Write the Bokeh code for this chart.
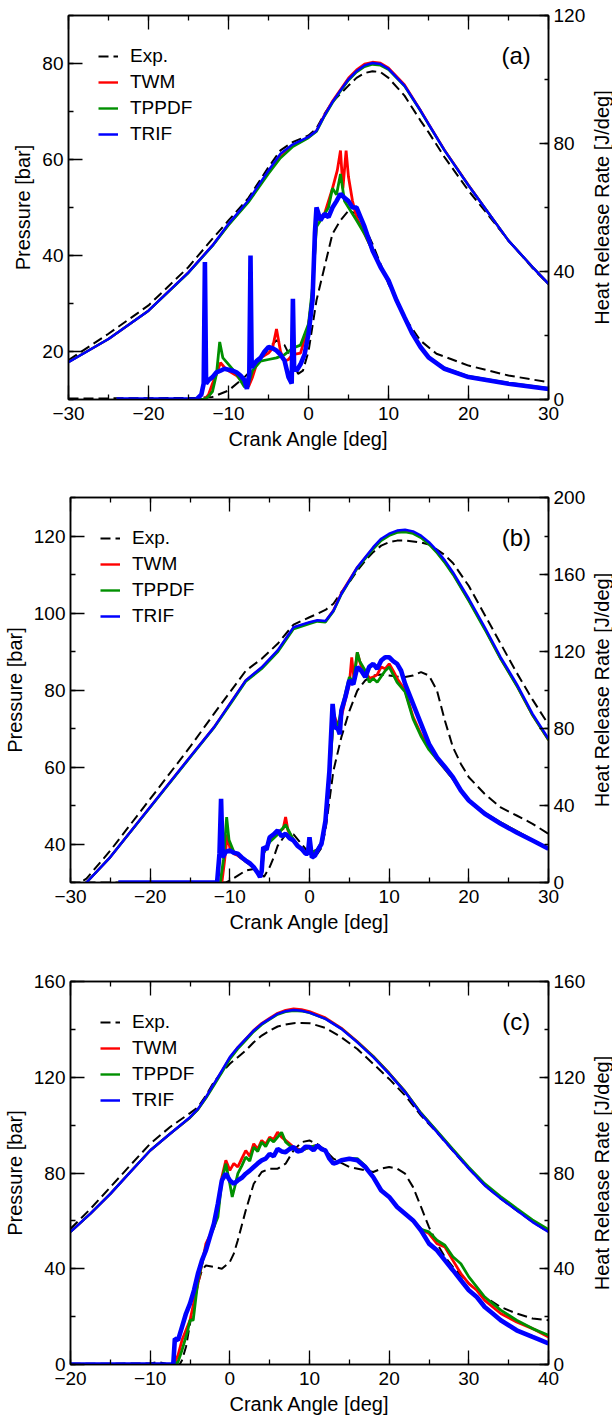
import math
from bokeh.plotting import figure
from bokeh.models import (Range1d, LinearAxis, SingleIntervalTicker, Legend,
                          LegendItem, Label, CustomJSTickFormatter, Title)
from bokeh.layouts import column, row
from bokeh.embed import file_html
from bokeh.resources import INLINE

# ---------------- data ----------------
SERIES = ["Exp.", "TWM", "TPPDF", "TRIF"]

A_P_X = [-30, -25, -20, -15, -12, -10, -7.5, -5, -3.5, -2, 0, 1, 2, 3, 4, 5, 6, 7, 8, 9,
         10, 12, 14, 15, 17, 20, 22, 25, 28, 30]
A_P_EXP = [18.2, 23.7, 29.6, 37.6, 43.5, 47.3, 52.0, 58.4, 61.9, 63.6, 65.0, 66.5, 69.5, 72.0,
           73.7, 75.4, 77.0, 78.0, 78.4, 78.2, 77.0, 73.3, 68.1, 65.7, 60.5, 53.5, 49.4, 43.1,
           37.4, 34.0]
A_P_TWM = [17.8, 22.6, 28.5, 36.5, 42.1, 46.4, 51.3, 57.3, 60.6, 62.8, 64.6, 66.0, 69.3, 72.2,
           74.6, 77.0, 78.7, 79.9, 80.3, 80.1, 79.1, 75.6, 70.3, 67.5, 62.0, 54.7, 50.0, 43.1,
           37.6, 34.1]
A_P_TPPDF = [17.8, 22.6, 28.5, 36.4, 42.0, 46.3, 51.1, 57.0, 60.3, 62.6, 64.5, 65.8, 69.0, 71.8,
             74.2, 76.5, 78.2, 79.3, 79.8, 79.6, 78.7, 75.3, 70.1, 67.3, 61.9, 54.6, 50.0, 43.1,
             37.6, 34.1]
A_P_TRIF = [17.8, 22.6, 28.5, 36.5, 42.1, 46.6, 51.5, 57.7, 61.2, 63.1, 64.7, 66.0, 69.2, 72.0,
            74.4, 76.7, 78.4, 79.6, 80.1, 79.9, 78.9, 75.4, 70.2, 67.4, 61.9, 54.6, 50.0, 43.1,
            37.6, 34.1]

A_H_EXP = [(-30, 0.3), (-20, 0.4), (-14, 0.5), (-12, 0.8), (-10, 2.8), (-8, 7), (-6, 12),
           (-5, 16), (-4, 18.5), (-3, 17), (-2, 12), (-1.3, 8), (-0.7, 9), (0, 15), (1, 31),
           (2, 41.4), (3, 51.8), (4, 56), (5, 59), (6, 58), (7, 54), (8, 48.6), (9, 42.4),
           (10, 36.1), (12, 25.7), (14, 18.4), (16, 14.3), (20, 10.6), (25, 7.5), (30, 5.4)]
A_H_TWM = [(-24, 0), (-13, 0), (-12.5, 1.5), (-12, 5), (-11.5, 8), (-11, 11.5), (-10.5, 10),
           (-10, 9), (-9, 7.5), (-8, 5), (-7.5, 4), (-7, 7), (-6.5, 11), (-6, 13), (-5, 14.5),
           (-4.5, 16), (-4, 22), (-3.5, 15), (-3, 12), (-2.5, 12.5), (-2, 14), (-1, 14.5),
           (0, 23), (0.5, 33), (1, 56), (2, 58), (2.5, 62), (3, 66), (3.6, 71.6), (4, 77.8),
           (4.3, 66), (4.7, 77.8), (5, 69.5), (5.5, 62), (6, 57), (7, 51.8), (8, 46.6),
           (9, 41.4), (10, 37.2), (11, 31), (12, 25.7), (13, 20.5), (14, 16.4), (15, 13.2),
           (17, 9.6), (20, 7), (25, 4.9), (30, 3.3)]
A_H_TPPDF = [(-24, 0), (-13, 0), (-12.5, 1), (-12, 2.5), (-11.5, 8), (-11.1, 18), (-10.7, 13),
             (-10, 11), (-9, 8), (-8, 3.9), (-7.5, 5), (-7, 9), (-6, 12), (-5, 12.5), (-4, 13),
             (-3, 14), (-2, 16), (-1, 17), (0, 23.6), (0.5, 35), (1, 54), (2, 58), (2.5, 60),
             (3, 66), (3.5, 64), (4, 70.5), (4.5, 62), (5, 60), (6, 56), (7, 51.8), (8, 46.6),
             (9, 41.4), (10, 37.2), (11, 31), (12, 25.7), (13, 20.5), (14, 16.4), (15, 13.2),
             (17, 9.8), (20, 7.2), (25, 5.1), (30, 3.5)]
A_H_TRIF = [(-24, 0), (-14, 0), (-13.4, 1.5), (-13.1, 5), (-12.95, 43), (-12.8, 5), (-12.5, 6),
            (-12, 7), (-11.5, 8.5), (-11, 9), (-10.5, 9.6), (-10, 9.3), (-9.5, 9), (-9, 8.5),
            (-8.5, 7.5), (-8, 6), (-7.7, 3.3), (-7.4, 8), (-7.25, 45), (-7.1, 10), (-6.5, 12),
            (-6, 13), (-5.5, 15), (-5, 16.4), (-4.5, 16), (-4, 15.3), (-3.5, 14), (-3, 12.2),
            (-2.5, 7), (-2.1, 5), (-1.95, 31.5), (-1.8, 10), (-1.5, 9), (-1, 11), (-0.5, 14),
            (0, 20.5), (0.5, 31), (0.8, 52), (1, 60), (1.5, 56), (2, 58), (2.5, 57), (3, 60),
            (3.5, 62), (4, 64.3), (4.5, 63), (5, 62), (5.5, 60), (6, 60), (6.5, 57), (7, 54),
            (8, 46.6), (9, 41.4), (10, 37.2), (11, 31), (12, 25.7), (13, 20.5), (14, 16.4),
            (15, 13.2), (17, 9.6), (20, 7), (25, 4.9), (30, 3.3)]

B_P_X = [-30, -28, -25, -20, -15, -12, -10, -8, -6, -4, -2, 0, 1, 2, 3, 4, 5, 6, 7, 8, 9, 10,
         11, 12, 13, 14, 15, 16, 17, 18, 20, 22, 24, 26, 28, 30]
B_P_EXP = [28.5, 31.0, 38.3, 51.7, 65.2, 73.8, 79.4, 85.0, 88.1, 92.0, 97.0, 98.9, 99.8, 100.8,
           102.4, 105.4, 108.0, 111.0, 113.6, 115.8, 117.5, 118.4, 118.8, 118.8, 118.6, 118.3,
           117.8, 116.5, 115.0, 113.0, 107.0, 99.5, 92.0, 84.5, 77.5, 71.0]
B_P_TWM = [27.5, 30.0, 36.6, 49.6, 62.6, 70.3, 76.4, 82.5, 85.8, 90.1, 96.2, 97.5, 98.0, 97.8,
           100.7, 105.2, 108.6, 111.9, 114.4, 116.9, 119.0, 120.3, 121.0, 121.2, 120.8, 119.7,
           118.0, 115.8, 113.2, 110.2, 103.3, 95.9, 88.1, 81.2, 73.4, 67.0]
B_P_TPPDF = [27.5, 30.0, 36.6, 49.5, 62.4, 70.1, 76.1, 82.2, 85.5, 89.8, 95.8, 97.2, 97.8, 97.6,
             100.4, 104.8, 108.2, 111.6, 114.1, 116.6, 118.8, 120.1, 120.9, 121.0, 120.6, 119.5,
             117.8, 115.6, 113.0, 110.0, 103.1, 95.7, 88.0, 81.1, 73.4, 67.0]
B_P_TRIF = [27.5, 30.0, 36.6, 49.6, 62.6, 70.3, 76.4, 82.5, 85.9, 90.3, 96.3, 97.6, 98.1, 97.9,
            100.6, 105.0, 108.4, 111.9, 114.5, 117.1, 119.3, 120.6, 121.4, 121.6, 121.2, 120.1,
            118.4, 116.2, 113.6, 110.6, 103.7, 96.3, 88.5, 81.6, 73.8, 67.3]

B_H_EXP = [(-30, 0), (-10.5, 0), (-10, 1), (-9, 3.6), (-8, 6.2), (-7, 7), (-6.3, 5), (-5.7, 3),
           (-5, 8), (-4.5, 13), (-4, 19), (-3, 25), (-2, 25), (-1, 20), (0, 15), (1, 15),
           (1.5, 18), (2, 27), (3, 58), (4, 75.5), (5, 89), (6, 99.7), (7, 105), (8, 107.5),
           (9, 108), (10, 107.5), (11, 107), (12, 106.7), (13, 107.5), (14, 109.3),
           (15, 107.5), (16, 99.7), (17, 84), (18, 70.3), (19, 61.6), (20, 54.7), (22, 46),
           (24, 39), (26, 34.8), (28, 30.5), (30, 25.3)]
B_H_TWM = [(-24, 0), (-11, 0), (-10.7, 10), (-10.3, 25), (-10, 18), (-9.5, 15), (-9, 14),
           (-8, 11), (-7, 8), (-6.3, 4), (-6, 5), (-5.8, 15), (-5, 22), (-4, 26), (-3.3, 28),
           (-3, 34), (-2.7, 27), (-2, 22), (-1, 17), (0, 15), (1, 17), (1.5, 20), (2, 30),
           (2.5, 55), (3, 88), (3.5, 82), (4, 86), (4.5, 95), (5, 103), (5.3, 117), (5.6, 105),
           (6, 119.6), (6.5, 112), (7, 110), (7.5, 106), (8, 106.7), (8.5, 108), (9, 112),
           (9.5, 111), (10, 113.6), (10.5, 110), (11, 106), (12, 99.7), (13, 86), (14, 77),
           (15, 70), (16, 64), (17, 59), (18, 54), (19, 47.8), (20, 42.6), (22, 36), (24, 31),
           (26, 26.5), (28, 22), (30, 17.5)]
B_H_TPPDF = [(-24, 0), (-11.2, 0), (-10.8, 12), (-10.4, 34), (-10.1, 22), (-9.5, 16),
             (-9, 14.5), (-8, 11), (-7, 8), (-6.3, 4), (-6, 5), (-5.8, 15), (-5, 21), (-4, 25),
             (-3, 30), (-2, 22), (-1, 17), (0, 15), (1, 17), (1.5, 21), (2, 31), (2.5, 56),
             (3, 85), (3.5, 80), (4, 90), (4.5, 98), (5, 106.7), (5.5, 104), (6, 119.6),
             (6.3, 115), (7, 110), (7.5, 104), (8, 106), (8.5, 104), (9, 107), (9.5, 110),
             (10, 112), (10.5, 108), (11, 104), (12, 99), (13, 85), (14, 76), (15, 69),
             (16, 64), (17, 59), (18, 54), (19, 47.8), (20, 42.6), (22, 36), (24, 31),
             (26, 26.5), (28, 22), (30, 17.5)]
B_H_TRIF = [(-24, 0), (-11.6, 0), (-11.3, 15), (-11.1, 43.5), (-10.9, 13), (-10.5, 16),
            (-10, 16.6), (-9.5, 15.5), (-9, 15), (-8.5, 13), (-8, 11.4), (-7.5, 10), (-7, 8),
            (-6.5, 5), (-6.2, 2.8), (-6, 6), (-5.8, 18.4), (-5.4, 17), (-5, 23.5), (-4.5, 25),
            (-4, 27), (-3.5, 24), (-3, 25.3), (-2.5, 23), (-2, 21.8), (-1.5, 19), (-1, 17.5),
            (-0.5, 15), (-0.2, 15), (0, 23.5), (0.3, 13), (0.7, 14), (1, 16.6), (1.5, 20),
            (2, 32), (2.5, 58), (2.9, 92.8), (3.2, 80), (3.5, 80.7), (3.8, 77), (4, 89.4),
            (4.5, 96.3), (5, 105), (5.5, 103), (6, 111.9), (6.5, 110), (7, 106.7), (7.5, 112),
            (8, 113.6), (8.5, 111), (9, 115.3), (9.5, 117), (10, 117), (10.5, 115),
            (11, 113.6), (11.5, 110), (12, 103.2), (13, 92.8), (14, 82.4), (15, 72), (16, 65),
            (17, 60), (18, 54.7), (19, 47.8), (20, 42.6), (22, 35.7), (24, 30.5), (26, 26),
            (28, 21.8), (30, 17.5)]

C_P_X = [-20, -17.5, -15, -12.5, -10, -7.5, -5, -4, -3, -2, -1, 0, 1, 2, 3, 4, 5, 6, 7, 8, 9,
         10, 12, 14, 16, 18, 20, 22, 24, 26, 28, 30, 32, 34, 36, 38, 40]
C_P_EXP = [56.7, 65.0, 74.1, 83.2, 92.2, 99.2, 105.0, 107.5, 112.4, 118.0, 122.1, 125.6, 128.4,
           131.2, 134.6, 137.4, 139.5, 141.2, 142.0, 142.6, 142.7, 142.6, 140.6, 136.7, 131.8,
           125.6, 119.3, 112.4, 104.0, 96.9, 89.3, 81.8, 74.8, 69.3, 64.4, 59.5, 55.4]
C_P_TWM = [55.4, 63.0, 71.3, 80.4, 89.4, 96.4, 103.1, 106.6, 111.5, 117.0, 122.6, 128.2, 132.5,
           136.1, 139.7, 142.6, 144.7, 146.8, 148.0, 148.6, 148.3, 147.5, 144.9, 140.6, 135.0,
           128.8, 121.8, 114.1, 105.0, 97.4, 89.7, 82.1, 75.1, 69.6, 64.7, 59.8, 55.6]
C_P_TPPDF = [55.4, 63.0, 71.3, 80.4, 89.4, 96.4, 103.1, 106.5, 111.2, 116.5, 121.9, 127.5,
             131.8, 135.4, 139.0, 141.9, 144.1, 146.2, 147.3, 147.8, 147.6, 146.9, 144.4,
             140.3, 134.8, 128.7, 121.7, 114.1, 105.1, 97.6, 90.0, 82.5, 75.6, 70.2, 65.3,
             60.5, 56.5]
C_P_TRIF = [55.4, 63.0, 71.3, 80.4, 89.4, 96.4, 103.3, 106.8, 111.7, 117.2, 122.8, 128.4, 132.5,
            136.0, 139.5, 142.3, 144.4, 146.5, 147.6, 148.1, 147.8, 147.0, 144.4, 140.2, 134.6,
            128.4, 121.4, 113.8, 104.7, 97.1, 89.4, 81.8, 74.8, 69.3, 64.4, 59.5, 55.4]

C_H_EXP = [(-20, 0.3), (-10, 0.4), (-9, 1), (-8, 0.3), (-6.3, 0), (-6, 1.8), (-5.5, 7.4),
           (-5, 17), (-4.5, 25.4), (-4, 33.8), (-3.5, 39.4), (-3, 41.4), (-2, 40.8), (-1, 40),
           (0, 42.8), (0.5, 46.3), (1, 51.9), (2, 64.4), (3, 75.5), (4, 80.4), (5, 81.8),
           (6, 81.8), (7, 83.9), (8, 89.4), (9, 92.9), (10, 93.6), (11, 92), (12, 89.4),
           (13, 86), (15, 82.5), (17, 81.1), (18, 80.4), (19, 81.8), (20, 82.5), (21, 81.8),
           (22, 79.7), (23, 74.1), (24, 65.8), (25, 57.4), (26, 50.5), (27, 44.9), (28, 40.8),
           (30, 33.8), (32, 28.2), (34, 24), (36, 21.3), (38, 19.2), (40, 18.5)]
C_H_TWM = [(-20, 0), (-7, 0), (-6.5, 3.9), (-6, 10.2), (-5, 18.5), (-4, 33.8), (-3, 50.5),
           (-2, 57.4), (-1.5, 64), (-1, 78.3), (-0.5, 85.3), (0, 81.1), (0.5, 84), (1, 82.5),
           (1.5, 86), (2, 89.4), (2.5, 87), (3, 92.2), (3.5, 90), (4, 93.6), (4.5, 92), (5, 95),
           (5.5, 94), (6, 97.1), (6.5, 95), (7, 93.6), (8, 90.8), (9, 89.4), (10, 90.8),
           (11, 91.5), (12, 89.4), (13, 83.9), (14, 85.3), (15, 86), (16, 85.3), (17, 82.5),
           (18, 78.3), (19, 72.7), (20, 70), (21, 65.8), (22, 63), (23, 60.2), (24, 56.5),
           (25, 54.7), (26, 50.5), (27, 49.1), (28, 43.5), (29, 38), (30, 33.8), (31, 31),
           (32, 26.8), (34, 21.3), (36, 17.8), (38, 15), (40, 11.5)]
C_H_TPPDF = [(-20, 0), (-7, 0), (-6.5, 1.1), (-6, 6), (-5.3, 14), (-5, 18.5), (-4.6, 18.5),
             (-4, 35.2), (-3, 49), (-2, 57.4), (-1.5, 61.6), (-1, 76.9), (-0.5, 83.9), (0, 75.5),
             (0.3, 70), (0.6, 74), (1, 79.7), (1.5, 83), (2, 86.7), (2.5, 85), (3, 90.8),
             (3.5, 89), (4, 92.9), (4.5, 91), (5, 94.3), (5.5, 93), (6, 95), (6.5, 97), (7, 93),
             (8, 90), (9, 89.4), (10, 90.8), (11, 91.5), (12, 89.4), (13, 83.9), (14, 85.3),
             (15, 86), (16, 86), (17, 83), (18, 78.3), (19, 73), (20, 70), (21, 66), (22, 63),
             (23, 60.2), (24, 56.5), (25, 55.4), (26, 51.9), (27, 49.8), (28, 45), (29, 42.1),
             (30, 36.6), (32, 28.2), (34, 22.7), (36, 18.5), (38, 15), (40, 12.2)]
C_H_TRIF = [(-20, 0), (-7.1, 0), (-6.9, 10.8), (-6.5, 10.2), (-6, 15.7), (-5.5, 21.3),
            (-5, 25.4), (-4.5, 31), (-4, 38), (-3.5, 43.5), (-3, 47.7), (-2.5, 53.3),
            (-2, 58.8), (-1.5, 67.2), (-1, 76.9), (-0.5, 79.7), (0, 76.9), (0.5, 75.5),
            (1, 76.9), (1.5, 78), (2, 79.7), (2.5, 81), (3, 82.5), (3.5, 84), (4, 85.3),
            (4.5, 86), (5, 88), (5.5, 87), (6, 90.1), (6.5, 89), (7, 88.7), (7.5, 90),
            (8, 90.8), (8.5, 89), (9, 89.4), (9.5, 91), (10, 90.8), (10.5, 89.5), (11, 91.5),
            (11.5, 90), (12, 89.4), (12.5, 86), (13, 83.9), (13.5, 84.5), (14, 85.3), (15, 86),
            (16, 85.3), (17, 82.5), (18, 78.3), (19, 72.7), (20, 70), (21, 65.8), (22, 63),
            (23, 60.2), (24, 56), (25, 50.5), (26, 47.7), (27, 43.5), (28, 39.4), (29, 35.2),
            (30, 31), (31, 28.2), (32, 24), (33, 21.3), (34, 18.5), (35, 16.4), (36, 14.3),
            (37, 12.9), (38, 11.5), (39, 10.2), (40, 8.8)]

# ---------------- styling ----------------
FONT = "Liberation Sans"
COLORS = {"Exp.": "black", "TWM": "#ff0000", "TPPDF": "#009000", "TRIF": "#0000ff"}
P_WIDTH = {"Exp.": 2.0, "TWM": 2.4, "TPPDF": 2.4, "TRIF": 2.5}
H_WIDTH = {"Exp.": 2.0, "TWM": 2.8, "TPPDF": 2.8, "TRIF": 4.6}
DASH = {"Exp.": "10 5", "TWM": "solid", "TPPDF": "solid", "TRIF": "solid"}
SIDE_W = 24


def style_axis(ax, tick_in, minor_in):
    ax.axis_line_color = "black"
    ax.axis_line_width = 1.5
    ax.major_tick_line_color = "black"
    ax.minor_tick_line_color = "black"
    ax.major_tick_line_width = 1.3
    ax.minor_tick_line_width = 1.3
    ax.major_tick_in = tick_in
    ax.major_tick_out = 0
    ax.minor_tick_in = minor_in
    ax.minor_tick_out = 0
    ax.major_label_text_font = FONT
    ax.major_label_text_font_size = "19px"
    ax.major_label_text_color = "black"
    ax.axis_label_text_font = FONT
    ax.axis_label_text_font_size = "20px"
    ax.axis_label_text_font_style = "normal"
    ax.axis_label_text_color = "black"


def make_panel(tag, xr, pr, hr, p_int, h_int, px, pdata, hdata, height, top, bottom):
    p = figure(width=612 - SIDE_W, height=height, x_range=Range1d(*xr), y_range=Range1d(*pr),
               output_backend="svg", toolbar_location=None,
               min_border_left=68, min_border_right=612 - SIDE_W - 68 - 480,
               min_border_top=top, min_border_bottom=bottom)
    p.extra_y_ranges = {"hrr": Range1d(*hr)}
    p.grid.visible = False
    p.outline_line_color = "black"
    p.outline_line_width = 1.5
    p.outline_line_alpha = 1.0
    p.background_fill_color = "white"
    p.border_fill_color = "white"

    xax = p.xaxis[0]
    xax.ticker = SingleIntervalTicker(interval=10, num_minor_ticks=2)
    style_axis(xax, 14, 5)
    xax.axis_label = "Crank Angle [deg]"
    xax.major_label_standoff = 7
    xax.axis_label_standoff = 5

    yax = p.yaxis[0]
    yax.ticker = SingleIntervalTicker(interval=p_int, num_minor_ticks=2)
    style_axis(yax, 14, 5)
    yax.axis_label = "Pressure [bar]"
    yax.major_label_standoff = 5
    yax.axis_label_standoff = 5

    top_ax = LinearAxis(ticker=SingleIntervalTicker(interval=10, num_minor_ticks=2),
                        formatter=CustomJSTickFormatter(code="return ''"))
    style_axis(top_ax, 14, 5)
    top_ax.major_label_standoff = 0
    p.add_layout(top_ax, "above")

    r_ax = LinearAxis(y_range_name="hrr",
                      ticker=SingleIntervalTicker(interval=h_int, num_minor_ticks=2))
    style_axis(r_ax, 9, 4)
    r_ax.major_label_standoff = 5
    p.add_layout(r_ax, "right")

    renderers = {}
    for name in SERIES:
        pts = hdata[name]
        p.line([q[0] for q in pts], [q[1] for q in pts], y_range_name="hrr",
               line_color=COLORS[name], line_width=H_WIDTH[name], line_dash=DASH[name])
    for name in SERIES:
        renderers[name] = p.line(px, pdata[name], line_color=COLORS[name],
                                 line_width=P_WIDTH[name], line_dash=DASH[name])

    legend = Legend(items=[LegendItem(label=n, renderers=[renderers[n]]) for n in SERIES],
                    location="top_left", margin=30, padding=10, spacing=4,
                    glyph_width=20, glyph_height=22, label_height=22, label_standoff=12,
                    label_text_font=FONT, label_text_font_size="19px",
                    label_text_color="black", border_line_color=None,
                    background_fill_alpha=0.0)
    p.add_layout(legend)

    xpx = 480.0 / (xr[1] - xr[0])
    ppx = (height - top - bottom) / (pr[1] - pr[0])
    p.add_layout(Label(x=xr[1] - 32.3 / xpx, y=pr[1] - 40.0 / ppx, text=tag,
                       text_align="center", text_baseline="middle",
                       text_font=FONT, text_font_size="24px", text_color="black"))

    # right-hand title: a narrow companion panel whose left title reads bottom-to-top
    side = figure(width=SIDE_W, height=height, output_backend="svg", toolbar_location=None,
                  x_axis_type=None, y_axis_type=None, min_border_left=SIDE_W - 1,
                  min_border_right=0, min_border_top=top, min_border_bottom=bottom)
    side.outline_line_color = None
    side.grid.visible = False
    side.add_layout(Title(text="Heat Release Rate [J/deg]", align="center",
                          text_font=FONT, text_font_size="20px", text_font_style="normal",
                          text_color="black", standoff=0, offset=0), "left")
    return row(p, side, spacing=0)


pa = make_panel("(a)", (-30, 30), (10, 90), (0, 120), 20, 40, A_P_X,
                {"Exp.": A_P_EXP, "TWM": A_P_TWM, "TPPDF": A_P_TPPDF, "TRIF": A_P_TRIF},
                {"Exp.": A_H_EXP, "TWM": A_H_TWM, "TPPDF": A_H_TPPDF, "TRIF": A_H_TRIF},
                485, 15, 86)
pb = make_panel("(b)", (-30, 30), (30, 130), (0, 200), 20, 40, B_P_X,
                {"Exp.": B_P_EXP, "TWM": B_P_TWM, "TPPDF": B_P_TPPDF, "TRIF": B_P_TRIF},
                {"Exp.": B_H_EXP, "TWM": B_H_TWM, "TPPDF": B_H_TPPDF, "TRIF": B_H_TRIF},
                483, 12, 86)
pc = make_panel("(c)", (-20, 40), (0, 160), (0, 160), 40, 40, C_P_X,
                {"Exp.": C_P_EXP, "TWM": C_P_TWM, "TPPDF": C_P_TPPDF, "TRIF": C_P_TRIF},
                {"Exp.": C_H_EXP, "TWM": C_H_TWM, "TPPDF": C_H_TPPDF, "TRIF": C_H_TRIF},
                457, 13, 61)

layout = column(pa, pb, pc, spacing=0)
open("out.html", "w").write(file_html(layout, INLINE))
